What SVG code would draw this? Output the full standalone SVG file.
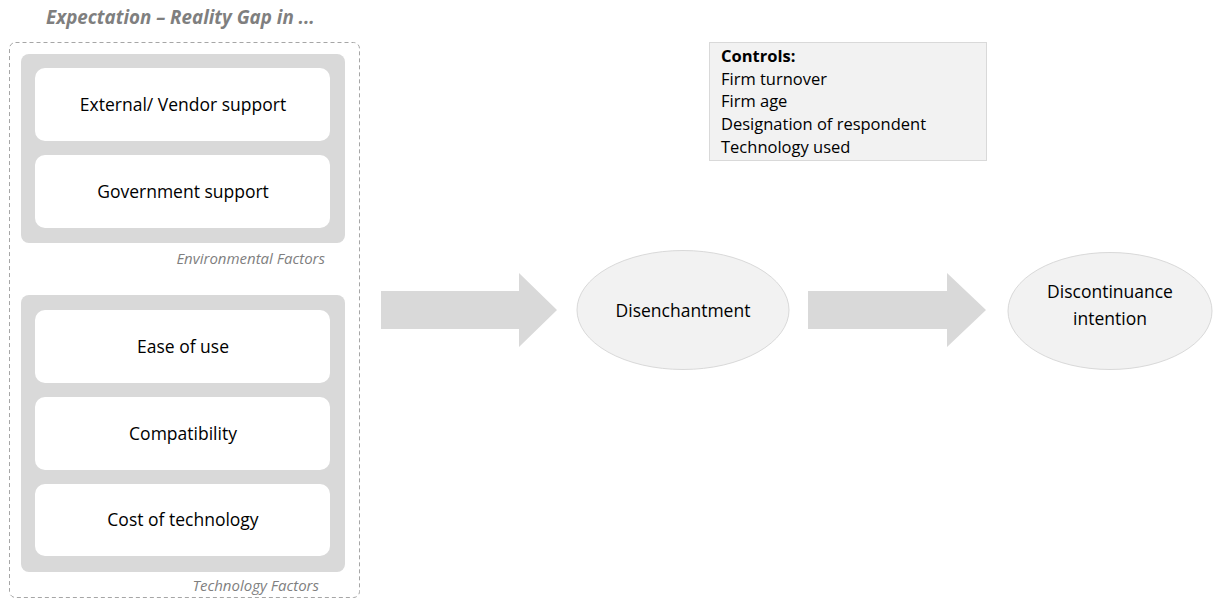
<svg xmlns="http://www.w3.org/2000/svg" width="1213" height="601" viewBox="0 0 1213 601">
<style>
.t{font-family:"Open Sans","Liberation Sans",sans-serif;font-size:17.5px;fill:#000;text-anchor:middle}
.cap{font-family:"Open Sans","Liberation Sans",sans-serif;font-size:15px;font-style:italic;fill:#7f7f7f;text-anchor:end}
.grp{fill:#d9d9d9}
.item{fill:#fff}
.ell{fill:#f2f2f2;stroke:#d9d9d9;stroke-width:1}
.arrow{fill:#d9d9d9}
.ctl{font-family:"Open Sans","Liberation Sans",sans-serif;font-size:16.5px;fill:#000}
</style>
<rect width="1213" height="601" fill="#fff"/>
<text x="46" y="24" font-family="Open Sans, Liberation Sans, sans-serif" font-size="18.8" font-weight="bold" font-style="italic" fill="#7f7f7f">Expectation – Reality Gap in ...</text>
<rect id="outer" x="9.5" y="42.5" width="350" height="555" rx="6" fill="none" stroke="#a6a6a6" stroke-width="1" stroke-dasharray="4 3"/>
<g id="environmental">
<rect class="grp" x="21" y="54" width="324" height="189" rx="8"/>
<text class="cap" x="325" y="264">Environmental Factors</text>
</g>
<g id="vendor"><rect class="item" x="35" y="68" width="295" height="73" rx="10"/><text class="t" x="183" y="111">External/ Vendor support</text></g>
<g id="government"><rect class="item" x="35" y="155" width="295" height="73" rx="10"/><text class="t" x="183" y="198">Government support</text></g>
<g id="technology">
<rect class="grp" x="21" y="295" width="324" height="277" rx="8"/>
<text class="cap" x="319" y="591">Technology Factors</text>
</g>
<g id="ease"><rect class="item" x="35" y="310" width="295" height="73" rx="10"/><text class="t" x="183" y="353">Ease of use</text></g>
<g id="compat"><rect class="item" x="35" y="397" width="295" height="73" rx="10"/><text class="t" x="183" y="440">Compatibility</text></g>
<g id="cost"><rect class="item" x="35" y="484" width="295" height="72" rx="10"/><text class="t" x="183" y="526">Cost of technology</text></g>
<g id="controls">
<rect x="709.5" y="42.5" width="277" height="118" fill="#f2f2f2" stroke="#d9d9d9"/>
<text class="ctl" x="721" y="62" font-weight="bold">Controls:</text>
<text class="ctl" x="721" y="85">Firm turnover</text>
<text class="ctl" x="721" y="107">Firm age</text>
<text class="ctl" x="721" y="130">Designation of respondent</text>
<text class="ctl" x="721" y="153">Technology used</text>
</g>
<g id="connectors">
<polygon class="arrow" points="381,291 519,291 519,273 557,310 519,347 519,329 381,329"/>
<polygon class="arrow" points="808,291 947,291 947,273 986,310 947,347 947,329 808,329"/>
</g>
<g id="disenchantment"><ellipse class="ell" cx="683" cy="310" rx="106" ry="59.5"/><text class="t" x="683" y="317">Disenchantment</text></g>
<g id="discontinuance"><ellipse class="ell" cx="1110" cy="311" rx="102" ry="58.5"/><text class="t" x="1110" y="298">Discontinuance</text><text class="t" x="1110" y="325">intention</text></g>
</svg>
